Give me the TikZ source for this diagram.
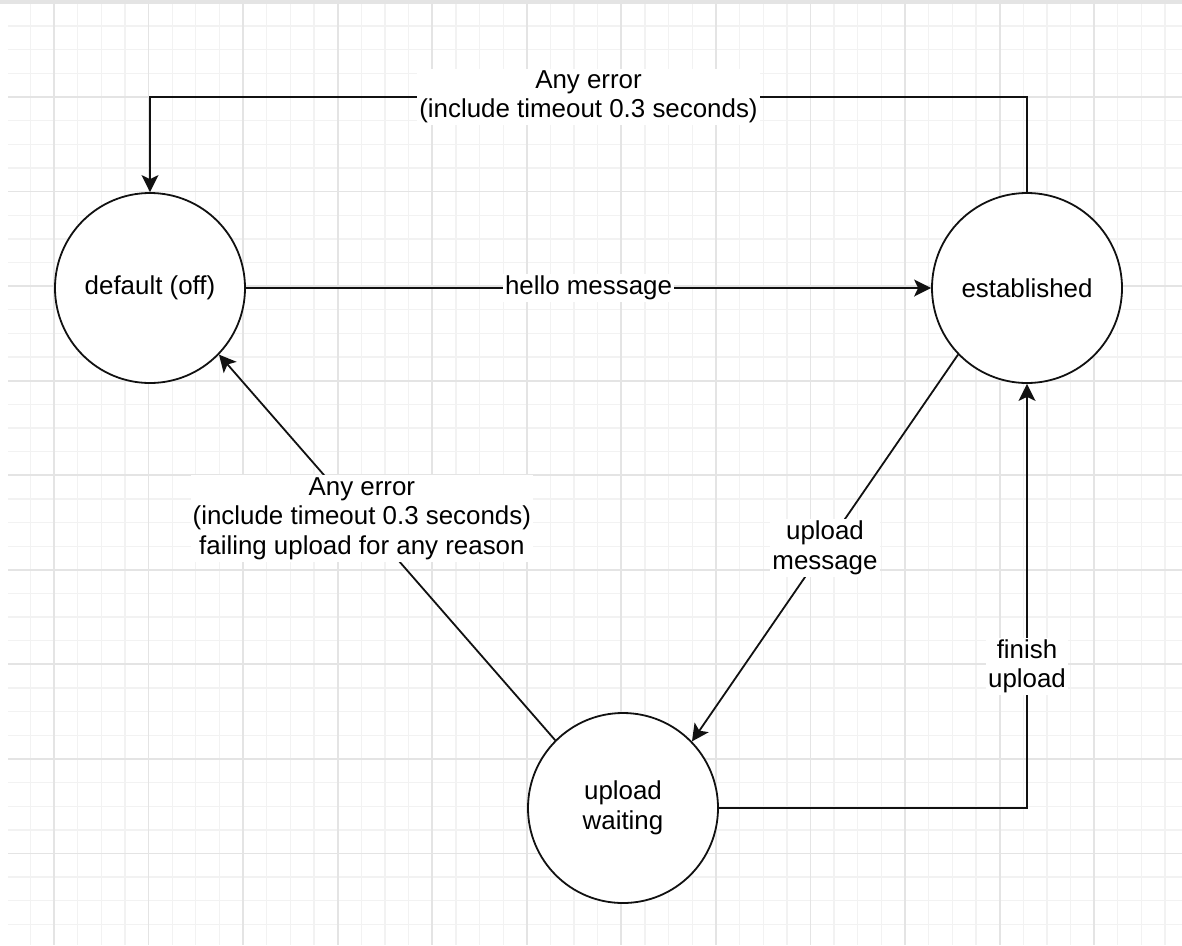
\documentclass[tikz,border=0pt]{standalone}
\usepackage{fontspec}
\setmainfont{Liberation Sans}
\usetikzlibrary{arrows.meta}
\definecolor{gridminor}{HTML}{F2F2F2}
\definecolor{gridmajor}{HTML}{E4E4E4}
\definecolor{edgecol}{HTML}{111111}
\tikzset{
  minorline/.style={draw=gridminor,line width=1.3pt},
  majorline/.style={draw=gridmajor,line width=1.8pt},
  state/.style={circle,draw=edgecol,line width=1.8pt,fill=white,minimum size=190pt,inner sep=0pt,align=center,font=\fontsize{25.9}{29.5}\selectfont},
  lbl/.style={fill=white,inner sep=2pt,align=center,font=\fontsize{25.9}{29.5}\selectfont,text=black},
  conn/.style={draw=edgecol,line width=1.8pt},
  arr/.style={conn,-{Stealth[length=17pt,width=17pt,inset=4pt]}}
}
\begin{document}
\begin{tikzpicture}[x=1pt,y=-1pt]
\useasboundingbox (0,0) rectangle (1182,945);
\fill[white] (0,0) rectangle (1182,945);
% grid
\foreach \i in {1,...,49} {
  \pgfmathsetmacro\xx{6.72+23.64*\i}
  \draw[minorline] (\xx,0) -- (\xx,945);
}
\foreach \j in {1,...,40} {
  \pgfmathsetmacro\yy{2.45+23.64*\j}
  \draw[minorline] (8,\yy) -- (1182,\yy);
}
\foreach \i in {0,...,12} {
  \pgfmathsetmacro\xx{54+94.56*\i}
  \draw[majorline] (\xx,0) -- (\xx,945);
}
\foreach \j in {1,...,10} {
  \pgfmathsetmacro\yy{2.45+94.56*\j}
  \draw[majorline] (8,\yy) -- (1182,\yy);
}
\fill[gridmajor] (0,0) rectangle (1182,3.5);
% states
\node[state] (def) at (150,288) {default (off)};
\node[state] (est) at (1027,288) {established};
\node[state] (up) at (623,808) {upload\\waiting};
% corners
\coordinate (topR) at (1027,97);
\coordinate (topL) at (150,97);
\coordinate (botR) at (1027,808);
% edges
\draw[arr] (est.north) -- (topR) -- node[lbl] {Any error\\(include timeout 0.3 seconds)} (topL) -- (def.north);
\draw[arr] (def.east) -- node[lbl] {hello message} (est.west);
\draw[arr] (est.224) -- node[lbl] {upload\\message} (up.44);
\draw[arr] (up.135) -- node[lbl,pos=0.575] {Any error\\(include timeout 0.3 seconds)\\failing upload for any reason} (def.-44);
\draw[arr] (up.east) -- (botR) -- node[lbl,pos=0.334] {finish\\upload} (est.south);
\end{tikzpicture}
\end{document}
